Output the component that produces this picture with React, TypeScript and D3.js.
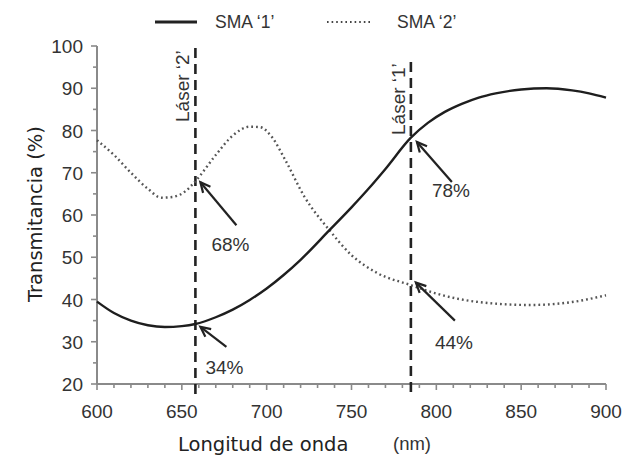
import React from "react";
import * as d3 from "d3";

// Wavelength (nm) and transmittance (%)
const sma1Wavelength = [600, 610, 620, 630, 640, 650, 658, 670, 680, 690, 700, 710, 720, 737, 750, 760, 770, 785, 795, 805, 815, 825, 835, 850, 865, 880, 890, 900];
const sma1Values = [39.5, 36.8, 35.0, 33.9, 33.5, 33.7, 34.2, 35.8, 37.6, 39.9, 42.6, 45.8, 49.4, 56.4, 61.8, 66.2, 70.9, 78.3, 81.8, 84.4, 86.3, 87.8, 88.8, 89.7, 90.0, 89.5, 88.8, 87.8];

const sma2Wavelength = [600, 610, 620, 630, 638, 645, 652, 658, 670, 680, 690, 696, 703, 711, 722, 737, 750, 765, 785, 800, 825, 855, 880, 900];
const sma2Values = [77.7, 74.2, 70.0, 66.2, 64.1, 64.3, 65.6, 68.0, 74.2, 78.8, 80.9, 80.8, 78.5, 73.0, 64.5, 56.4, 50.5, 46.3, 43.4, 41.4, 39.4, 38.7, 39.4, 41.0];

const xTicks = [600, 650, 700, 750, 800, 850, 900];
const yTicks = [20, 30, 40, 50, 60, 70, 80, 90, 100];

const laserWavelengths = [658, 785];
const laserLabels = ["Láser \u20182\u2019", "Láser \u20181\u2019"];

const annotationWavelengths = [658, 658, 785, 785];
const annotationValues = [68, 34, 78, 44];
const annotationLabels = ["68%", "34%", "78%", "44%"];

const seriesNames = ["SMA \u20181\u2019", "SMA \u20182\u2019"];

export default function App() {
  const W = 626;
  const H = 461;
  const x = d3.scaleLinear().domain([600, 900]).range([97, 606]);
  const y = d3.scaleLinear().domain([20, 100]).range([384, 46]);

  const line = d3
    .line<[number, number]>()
    .x((d) => x(d[0]))
    .y((d) => y(d[1]))
    .curve(d3.curveMonotoneX);

  const s1 = sma1Wavelength.map((w, i) => [w, sma1Values[i]] as [number, number]);
  const s2 = sma2Wavelength.map((w, i) => [w, sma2Values[i]] as [number, number]);

  const axisColor = "#8a8a8a";
  const textColor = "#333";
  const arial = "'Liberation Sans', Arial, sans-serif";
  const dejavu = "'DejaVu Sans', Verdana, sans-serif";

  const minorX = d3.range(600, 901, 10);
  const minorY = d3.range(20, 101, 5);

  // annotation layout: tip offset from point, tail offset, text offset
  const annLayout = [
    { tip: [5, 1], tail: [41, 44], text: [16, 70] },
    { tip: [5, 2], tail: [31, 22], text: [10, 49] },
    { tip: [6, 3], tail: [41, 43], text: [21, 58] },
    { tip: [5, 0], tail: [44, 38], text: [24, 66] },
  ];
  const laserTop = [48, 62];
  const laserTextBottom = [122, 135];

  const arrowHead = (tx: number, ty: number, fx: number, fy: number) => {
    const ang = Math.atan2(fy - ty, fx - tx);
    const len = 11;
    const spread = 0.45;
    const a1 = [tx + len * Math.cos(ang - spread), ty + len * Math.sin(ang - spread)];
    const a2 = [tx + len * Math.cos(ang + spread), ty + len * Math.sin(ang + spread)];
    return `M${a1[0]},${a1[1]}L${tx},${ty}L${a2[0]},${a2[1]}`;
  };

  return (
    <svg
      width={W}
      height={H}
      style={{ position: "absolute", left: 0, top: 0, background: "#fff" }}
    >
      <rect x={0} y={0} width={W} height={H} fill="#fff" />
      {/* Legend */}
      <line x1={155} x2={197} y1={22} y2={22} stroke="#222" strokeWidth={3} />
      <text x={215} y={28} fontFamily={arial} fontSize={17.5} fill={textColor}>
        {seriesNames[0]}
      </text>
      <line
        x1={327}
        x2={372}
        y1={22}
        y2={22}
        stroke="#444"
        strokeWidth={2.2}
        strokeDasharray="1.6 3"
      />
      <text x={397} y={28} fontFamily={arial} fontSize={17.5} fill={textColor}>
        {seriesNames[1]}
      </text>

      {/* Y axis */}
      <line x1={97} x2={97} y1={y(100)} y2={y(20)} stroke={axisColor} strokeWidth={2} />
      {minorY.map((v) => (
        <line
          key={"my" + v}
          x1={v % 10 === 0 ? 91 : 93}
          x2={97}
          y1={y(v)}
          y2={y(v)}
          stroke={axisColor}
          strokeWidth={1.6}
        />
      ))}
      {yTicks.map((v) => (
        <text
          key={"ty" + v}
          x={83}
          y={y(v) + 7}
          textAnchor="end"
          fontFamily={arial}
          fontSize={19}
          fill={textColor}
        >
          {v}
        </text>
      ))}

      {/* X axis */}
      <line x1={x(600)} x2={x(900)} y1={384} y2={384} stroke={axisColor} strokeWidth={2} />
      {minorX.map((v) => (
        <line
          key={"mx" + v}
          x1={x(v)}
          x2={x(v)}
          y1={384}
          y2={v % 50 === 0 ? 390 : 388}
          stroke={axisColor}
          strokeWidth={1.6}
        />
      ))}
      {xTicks.map((v) => (
        <text
          key={"tx" + v}
          x={x(v)}
          y={418}
          textAnchor="middle"
          fontFamily={arial}
          fontSize={19}
          fill={textColor}
        >
          {v}
        </text>
      ))}

      {/* Axis titles */}
      <text x={178} y={451} fontFamily={dejavu} fontSize={19.5} fill="#222">
        Longitud de onda
      </text>
      <text x={393} y={450} fontFamily={arial} fontSize={18.5} fill={textColor}>
        (nm)
      </text>
      <text
        transform={`translate(42,214) rotate(-90)`}
        textAnchor="middle"
        fontFamily={dejavu}
        fontSize={19.5}
        fill="#222"
      >
        Transmitancia (%)
      </text>

      {/* Laser lines */}
      {laserWavelengths.map((w, i) => (
        <g key={"laser" + i}>
          <line
            x1={x(w)}
            x2={x(w)}
            y1={laserTop[i]}
            y2={396}
            stroke="#222"
            strokeWidth={2.6}
            strokeDasharray="10 6"
          />
          <text
            transform={`translate(${x(w) - 6},${laserTextBottom[i]}) rotate(-90)`}
            fontFamily={arial}
            fontSize={19}
            fill={textColor}
          >
            {laserLabels[i]}
          </text>
        </g>
      ))}

      {/* Series */}
      <path d={line(s2) || ""} fill="none" stroke="#555" strokeWidth={2.4} strokeDasharray="1.8 3" />
      <path d={line(s1) || ""} fill="none" stroke="#1e1e1e" strokeWidth={2.4} />

      {/* Annotations */}
      {annotationWavelengths.map((w, i) => {
        const px = x(w);
        const py = y(annotationValues[i]);
        const L = annLayout[i];
        const tx = px + L.tip[0];
        const ty = py + L.tip[1];
        const fx = px + L.tail[0];
        const fy = py + L.tail[1];
        return (
          <g key={"ann" + i}>
            <line x1={fx} y1={fy} x2={tx} y2={ty} stroke="#222" strokeWidth={2.2} />
            <path d={arrowHead(tx, ty, fx, fy)} fill="none" stroke="#222" strokeWidth={2.2} />
            <text
              x={px + L.text[0]}
              y={py + L.text[1]}
              fontFamily={arial}
              fontSize={19}
              fill={textColor}
            >
              {annotationLabels[i]}
            </text>
          </g>
        );
      })}
    </svg>
  );
}
